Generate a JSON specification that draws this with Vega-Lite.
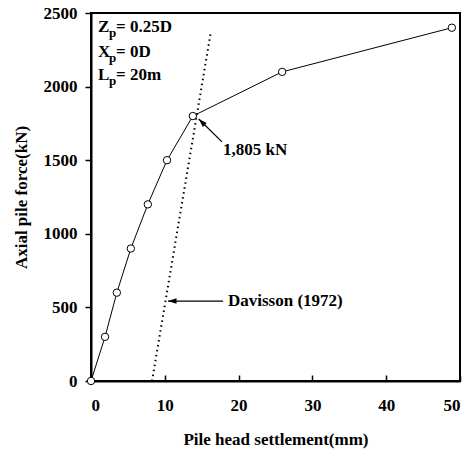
{
  "$schema": "https://vega.github.io/schema/vega-lite/v6.json",
  "width": 369,
  "height": 368,
  "autosize": "none",
  "padding": {"left": 91, "top": 13, "right": 14, "bottom": 71},
  "background": "white",
  "config": {
    "view": {"stroke": "black", "strokeWidth": 2},
    "font": "Liberation Serif",
    "axis": {
      "grid": false,
      "domainColor": "black",
      "domainWidth": 2,
      "tickColor": "black",
      "tickWidth": 1.5,
      "labelFont": "Liberation Serif",
      "labelFontWeight": "bold",
      "labelFontSize": 17,
      "labelColor": "black",
      "titleFont": "Liberation Serif",
      "titleFontWeight": "bold",
      "titleFontSize": 17,
      "titleColor": "black"
    }
  },
  "datasets": {
    "pile": [
      {"s": 0, "f": 0},
      {"s": 1.9, "f": 300},
      {"s": 3.5, "f": 600},
      {"s": 5.4, "f": 900},
      {"s": 7.7, "f": 1200},
      {"s": 10.3, "f": 1500},
      {"s": 13.8, "f": 1800},
      {"s": 25.9, "f": 2100},
      {"s": 48.9, "f": 2400}
    ],
    "davisson": [
      {"s": 8.27, "f": 0},
      {"s": 16.26, "f": 2378}
    ],
    "arrows": [
      {"x1": 17.75, "y1": 1624, "x2": 14.6, "y2": 1780, "ang": 45, "label": "1,805 kN", "tx": 17.9, "ty": 1570},
      {"x1": 17.9, "y1": 543, "x2": 10.43, "y2": 543, "ang": 0, "label": "Davisson (1972)", "tx": 18.56, "ty": 543}
    ],
    "params": [
      {"main": "Z", "sub": "p", "rest": "= 0.25D", "x": 0.95, "y": 2405},
      {"main": "X", "sub": "p", "rest": "= 0D", "x": 0.95, "y": 2235},
      {"main": "L", "sub": "p", "rest": "= 20m", "x": 0.95, "y": 2079}
    ]
  },
  "layer": [
    {
      "data": {"name": "davisson"},
      "mark": {"type": "line", "color": "black", "strokeWidth": 2, "strokeDash": [1.5, 3.5], "strokeCap": "butt"},
      "encoding": {
        "x": {"field": "s", "type": "quantitative", "scale": {"domain": [0, 50], "nice": false},
          "axis": {"values": [0, 10, 20, 30, 40, 50], "format": "d", "tickSize": -6, "labelPadding": 22, "title": "Pile head settlement(mm)", "titlePadding": 18}},
        "y": {"field": "f", "type": "quantitative", "scale": {"domain": [0, 2500], "nice": false},
          "axis": {"values": [0, 500, 1000, 1500, 2000, 2500], "format": "d", "tickSize": 6, "labelPadding": 8, "title": "Axial pile force(kN)", "titlePadding": 13}}
      }
    },
    {
      "data": {"name": "pile"},
      "mark": {"type": "line", "color": "black", "strokeWidth": 1},
      "encoding": {
        "x": {"field": "s", "type": "quantitative"},
        "y": {"field": "f", "type": "quantitative"}
      }
    },
    {
      "data": {"name": "pile"},
      "mark": {"type": "point", "shape": "circle", "filled": true, "fill": "white", "stroke": "black", "strokeWidth": 1, "size": 55, "opacity": 1},
      "encoding": {
        "x": {"field": "s", "type": "quantitative"},
        "y": {"field": "f", "type": "quantitative"}
      }
    },
    {
      "data": {"name": "arrows"},
      "mark": {"type": "rule", "color": "black", "strokeWidth": 1.2},
      "encoding": {
        "x": {"field": "x1", "type": "quantitative"},
        "y": {"field": "y1", "type": "quantitative"},
        "x2": {"field": "x2"},
        "y2": {"field": "y2"}
      }
    },
    {
      "data": {"name": "arrows"},
      "mark": {"type": "point", "shape": "M0,0L2.2,-0.7L2.2,0.7Z", "filled": true, "color": "black", "size": 60, "opacity": 1},
      "encoding": {
        "x": {"field": "x2", "type": "quantitative"},
        "y": {"field": "y2", "type": "quantitative"},
        "angle": {"field": "ang", "type": "quantitative", "scale": null}
      }
    },
    {
      "data": {"name": "arrows"},
      "mark": {"type": "text", "align": "left", "baseline": "middle", "font": "Liberation Serif", "fontWeight": "bold", "fontSize": 17, "color": "black"},
      "encoding": {
        "x": {"field": "tx", "type": "quantitative"},
        "y": {"field": "ty", "type": "quantitative"},
        "text": {"field": "label"}
      }
    },
    {
      "data": {"name": "params"},
      "mark": {"type": "text", "align": "left", "baseline": "middle", "font": "Liberation Serif", "fontWeight": "bold", "fontSize": 17, "color": "black"},
      "encoding": {
        "x": {"field": "x", "type": "quantitative"},
        "y": {"field": "y", "type": "quantitative"},
        "text": {"field": "main"}
      }
    },
    {
      "data": {"name": "params"},
      "mark": {"type": "text", "align": "left", "baseline": "middle", "font": "Liberation Serif", "fontWeight": "bold", "fontSize": 13, "color": "black", "dx": 11, "dy": 6},
      "encoding": {
        "x": {"field": "x", "type": "quantitative"},
        "y": {"field": "y", "type": "quantitative"},
        "text": {"field": "sub"}
      }
    },
    {
      "data": {"name": "params"},
      "mark": {"type": "text", "align": "left", "baseline": "middle", "font": "Liberation Serif", "fontWeight": "bold", "fontSize": 17, "color": "black", "dx": 18},
      "encoding": {
        "x": {"field": "x", "type": "quantitative"},
        "y": {"field": "y", "type": "quantitative"},
        "text": {"field": "rest"}
      }
    }
  ]
}
